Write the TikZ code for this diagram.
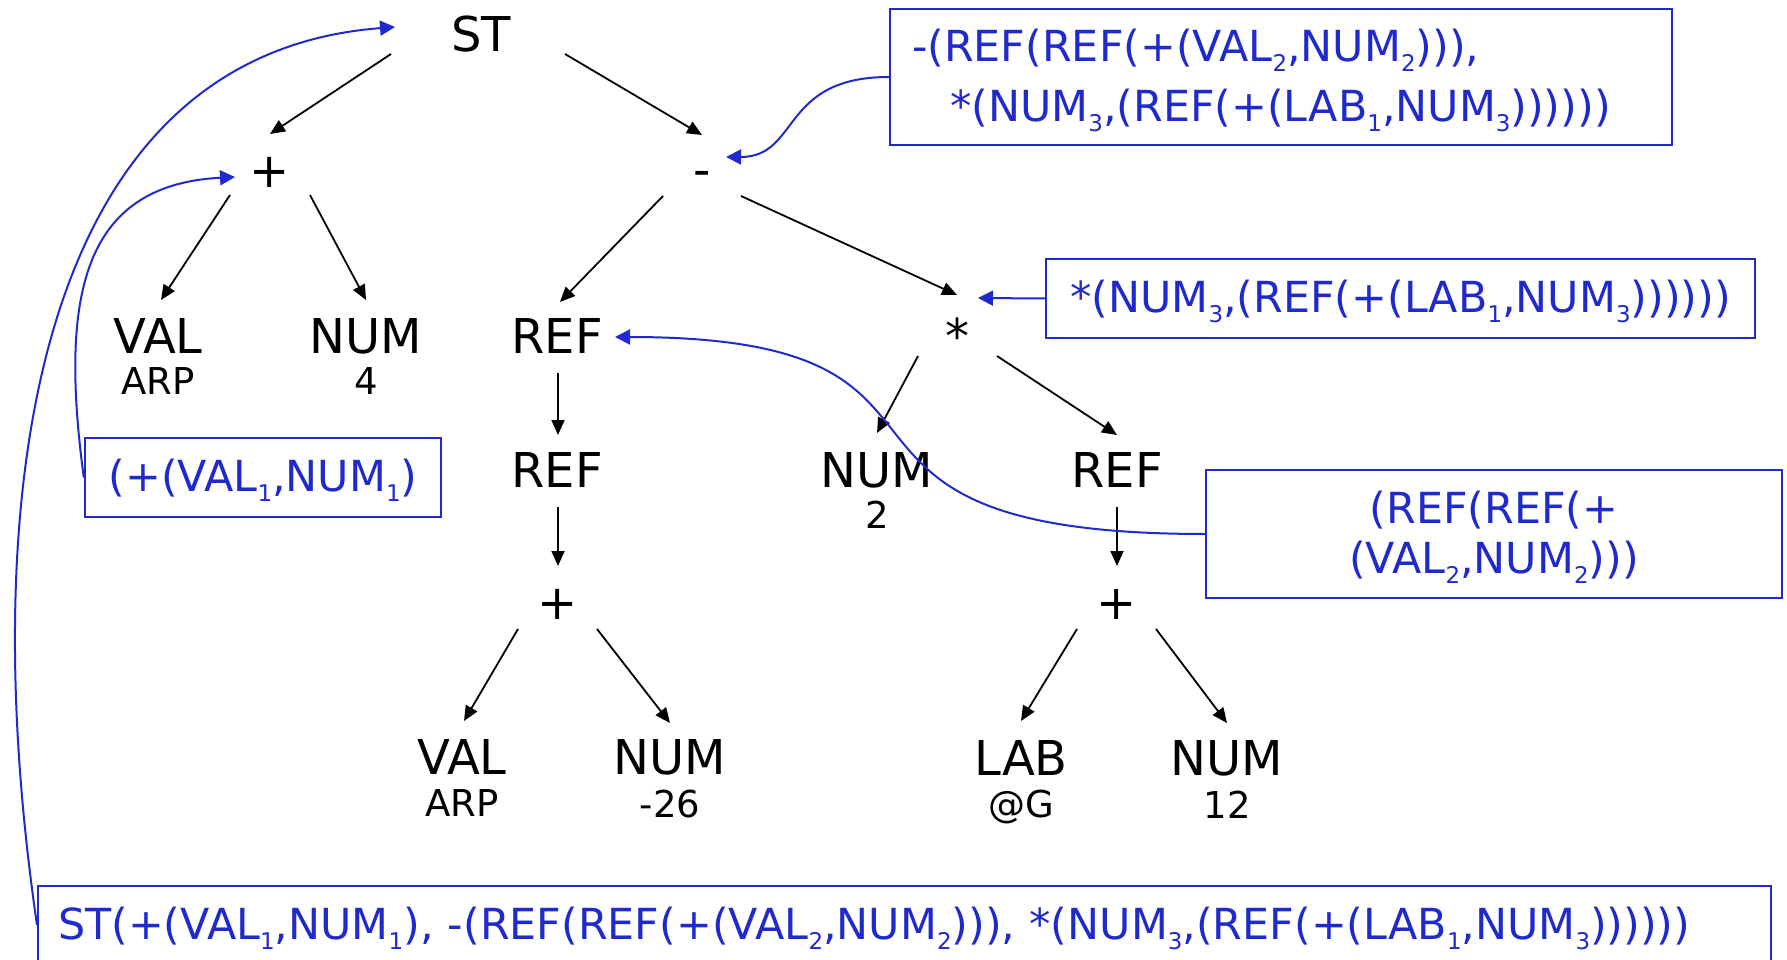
\documentclass[tikz,border=0pt]{standalone}
\usepackage{fontspec}
\setmainfont{DejaVu Sans}
\usetikzlibrary{arrows.meta}
\definecolor{treeblue}{RGB}{32,42,204}
% lowered index digit used in the term strings
\newcommand\sbs[1]{\raisebox{-10pt}{\fontsize{23}{23}\selectfont #1}}

\begin{document}
\begin{tikzpicture}[x=1pt,y=-1pt,
  tnode/.style={anchor=base, inner sep=0pt, font=\fontsize{48}{56}\selectfont},
  tsub/.style={anchor=base, inner sep=0pt, font=\fontsize{37}{44}\selectfont},
  tarr/.style={line width=1.8pt, -{Triangle[length=15pt,width=13pt]}},
  bbox/.style={draw=treeblue, text=treeblue, line width=2.4pt,
    font=\fontsize{42.8}{60}\selectfont, inner ysep=0pt},
  oneline/.style={text height=38pt, text depth=10pt},
  barr/.style={draw=treeblue, line width=2pt, -{Triangle[length=15pt,width=15pt]}},
]
\useasboundingbox (0,0) rectangle (1787,960);

% ---- syntax tree ----
\node[tnode] (st) at (481,52) {ST};
\node[tnode] (plusA) at (270,187) {+};
\node[tnode] (minusA) at (702,186) {-};
\node[tnode] (valA) at (158,353) {VAL};
\node[tsub]  (arpA) at (158,394) {ARP};
\node[tnode] (numA) at (366,353) {NUM};
\node[tsub]  (fourA) at (366,394) {4};
\node[tnode] (refA) at (557,353) {REF};
\node[tnode] (star) at (957,353) {*};
\node[tnode] (refB) at (557,487) {REF};
\node[tnode] (numB) at (877,487) {NUM};
\node[tsub]  (twoB) at (877,528) {2};
\node[tnode] (refC) at (1117,487) {REF};
\node[tnode] (plusB) at (558,619) {+};
\node[tnode] (plusC) at (1117,619) {+};
\node[tnode] (valB) at (462,774) {VAL};
\node[tsub]  (arpB) at (462,816) {ARP};
\node[tnode] (numC) at (670,774) {NUM};
\node[tsub]  (negC) at (670,817) {-26};
\node[tnode] (labD) at (1021,775) {LAB};
\node[tsub]  (atD) at (1021,817) {@G};
\node[tnode] (numD) at (1227,775) {NUM};
\node[tsub]  (twelveD) at (1227,818) {12};

% ---- tree edges ----
\draw[tarr] ([xshift=-90pt,yshift=-2pt]st.base) -- ([yshift=53pt]plusA.base);
\draw[tarr] ([xshift=84pt,yshift=-2pt]st.base) -- ([yshift=51pt]minusA.base);
\draw[tarr] ([xshift=-40pt,yshift=-8pt]plusA.base) -- ([xshift=3pt,yshift=53pt]valA.base);
\draw[tarr] ([xshift=40pt,yshift=-8pt]plusA.base) -- ([yshift=53pt]numA.base);
\draw[tarr] ([xshift=-39pt,yshift=-10pt]minusA.base) -- ([xshift=3pt,yshift=51pt]refA.base);
\draw[tarr] ([xshift=39pt,yshift=-10pt]minusA.base) -- ([yshift=58pt]star.base);
\draw[tarr] ([xshift=1pt,yshift=-20pt]refA.base) -- ([xshift=1pt,yshift=52pt]refB.base);
\draw[tarr] ([xshift=1pt,yshift=-20pt]refB.base) -- ([yshift=53pt]plusB.base);
\draw[tarr] ([xshift=-40pt,yshift=-10pt]plusB.base) -- ([xshift=2pt,yshift=53pt]valB.base);
\draw[tarr] ([xshift=39pt,yshift=-10pt]plusB.base) -- ([yshift=51pt]numC.base);
\draw[tarr] ([xshift=-39pt,yshift=-3pt]star.base) -- ([yshift=54pt]numB.base);
\draw[tarr] ([xshift=40pt,yshift=-3pt]star.base) -- ([yshift=52pt]refC.base);
\draw[tarr] ([yshift=-20pt]refC.base) -- ([yshift=53pt]plusC.base);
\draw[tarr] ([xshift=-40pt,yshift=-10pt]plusC.base) -- ([yshift=54pt]labD.base);
\draw[tarr] ([xshift=39pt,yshift=-10pt]plusC.base) -- ([yshift=52pt]numD.base);

% ---- term annotations ----
\node[bbox, align=left, text width=738pt, inner xsep=22pt, minimum height=136pt]
  (minusterm) at (1281,77)
  {\rule{0pt}{40pt}-(REF(REF(+(VAL\sbs{2},NUM\sbs{2}))),\\\hspace*{38pt}*(NUM\sbs{3},(REF(+(LAB\sbs{1},NUM\sbs{3}))))))};
\node[bbox, oneline, minimum width=709pt, minimum height=79pt]
  (starterm) at (1400.5,298.5)
  {*(NUM\sbs{3},(REF(+(LAB\sbs{1},NUM\sbs{3}))))))};
\node[bbox, oneline, minimum width=356pt, minimum height=79pt]
  (plusterm) at (263,477.5)
  {(+(VAL\sbs{1},NUM\sbs{1})};
\node[bbox, align=center, minimum width=576pt, minimum height=128pt,
  font=\fontsize{42.8}{50}\selectfont]
  (refterm) at (1494,534)
  {\rule{0pt}{38pt}(REF(REF(+\\(VAL\sbs{2},NUM\sbs{2})))};
\node[bbox, oneline, line width=2pt, align=left, text width=1693pt, inner xsep=20pt, minimum height=78pt]
  (stterm) at (904.5,925)
  {ST(+(VAL\sbs{1},NUM\sbs{1}), -(REF(REF(+(VAL\sbs{2},NUM\sbs{2}))), *(NUM\sbs{3},(REF(+(LAB\sbs{1},NUM\sbs{3}))))))};

% ---- links from terms to tree nodes ----
\draw[barr] (stterm.west) .. controls (-25,500) and (30,55) .. ([xshift=-86pt,yshift=25pt]st.base);
\draw[barr] (plusterm.west) .. controls (60,300) and (80,185) .. ([xshift=-35pt,yshift=10pt]plusA.base);
\draw[barr] (minusterm.west) .. controls (780,77) and (800,157) .. ([xshift=24pt,yshift=29pt]minusA.base);
\draw[barr] (starterm.west) -- ([xshift=21pt,yshift=55pt]star.base);
\draw[barr] (refterm.west) .. controls (760,534) and (1020,337) .. ([xshift=58pt,yshift=16pt]refA.base);
\end{tikzpicture}
\end{document}
